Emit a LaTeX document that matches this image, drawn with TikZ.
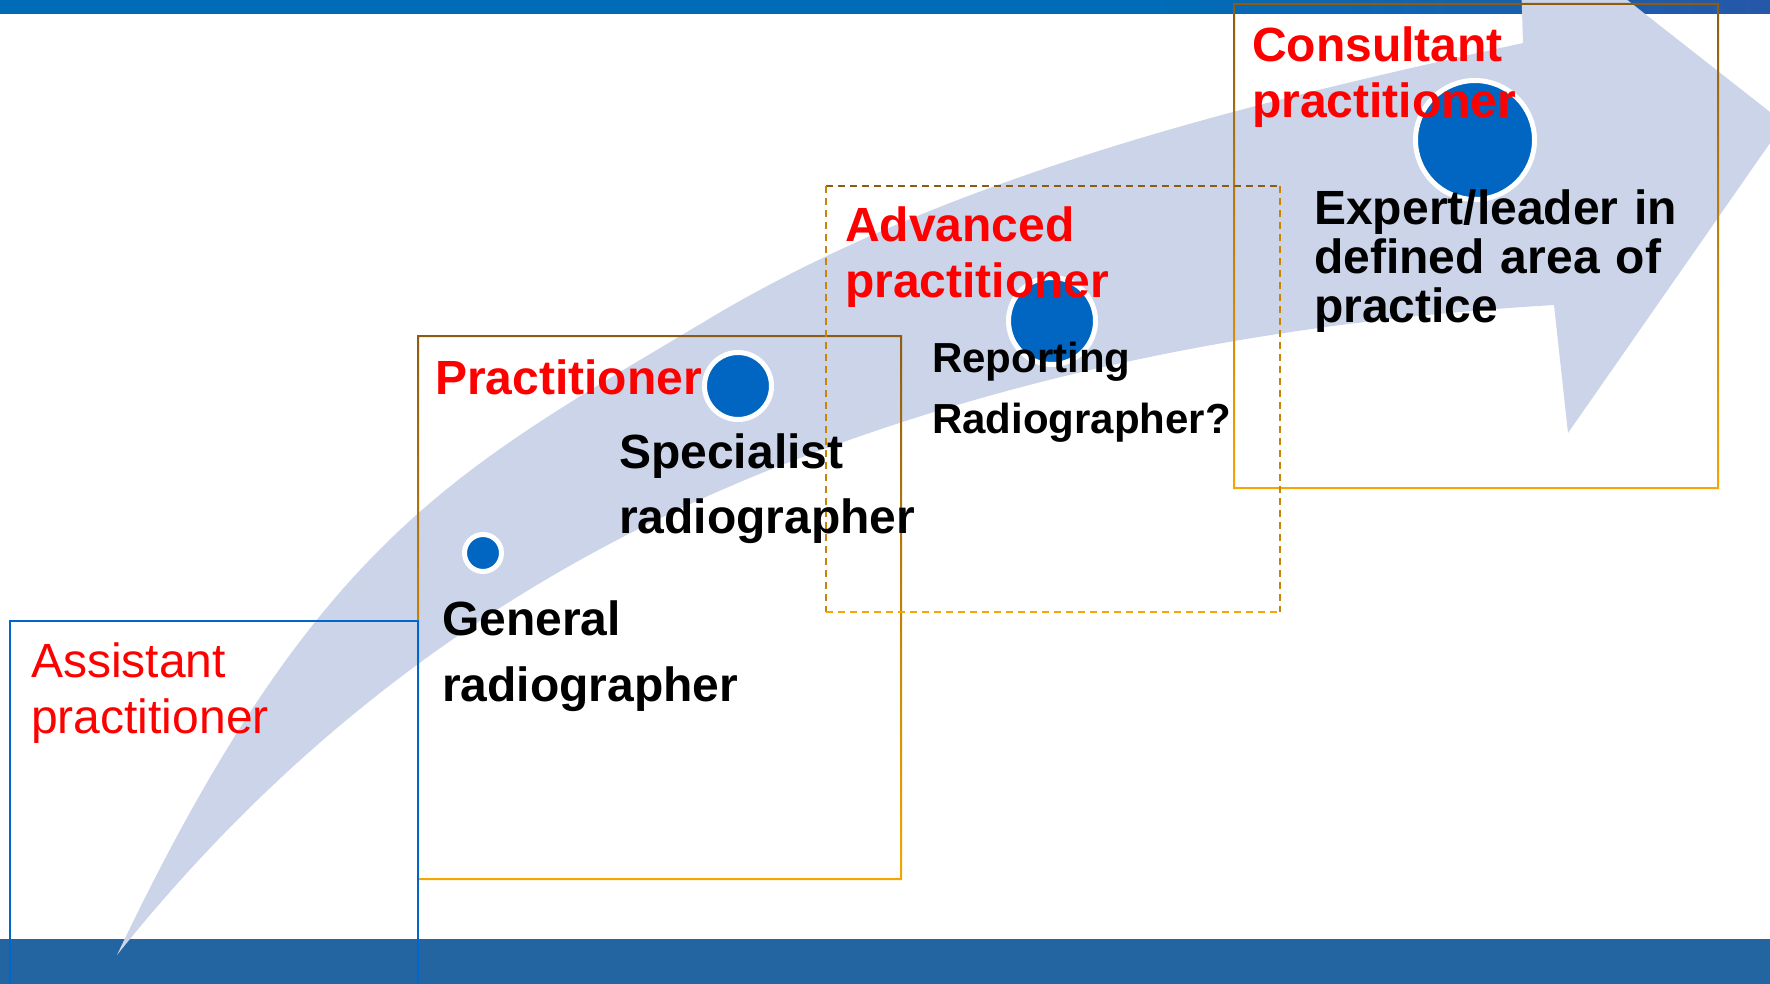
\documentclass[tikz,border=0pt]{standalone}
\usepackage{fontspec}
\setmainfont{Liberation Sans}

\definecolor{topblue}{RGB}{0,108,183}
\definecolor{toplight}{RGB}{72,146,204}
\definecolor{topdark}{RGB}{38,88,168}
\definecolor{barblue}{RGB}{34,101,161}
\definecolor{arrowfill}{RGB}{203,212,232}
\definecolor{dotblue}{RGB}{0,102,193}
\definecolor{assistblue}{RGB}{0,102,204}
\definecolor{framebrown}{RGB}{140,92,18}
\definecolor{frameorange}{RGB}{245,166,0}
\colorlet{framemid}{framebrown!45!frameorange}
\definecolor{titlered}{RGB}{255,0,0}

\begin{document}
\begin{tikzpicture}[x=0.75pt,y=0.75pt,yscale=-1,xscale=1,
  title/.style={anchor=base west, inner sep=0pt, text width=400pt, align=left, text=titlered, font=\bfseries\fontsize{36}{42}\selectfont},
  role/.style={anchor=base west, inner sep=0pt, text width=400pt, align=left, text=black, font=\bfseries\fontsize{36}{49}\selectfont},
  dot/.style={circle, inner sep=0pt, fill=dotblue, draw=white, line width=3.75pt},
  framedash/.style={line width=1.5pt, dash pattern={on 5.5pt off 3.5pt}}]
\useasboundingbox (0,0) rectangle (1770,984);
\clip (0,0) rectangle (1770,984);

%Shape: Rectangle [top bar]
\fill [topblue] (0,0) rectangle (1770,14);
\shade [left color=topblue, middle color=toplight, right color=topdark] (1150,0) rectangle (1770,14);
%Shape: Rectangle [bottom bar]
\fill [barblue] (0,939) rectangle (1770,984);

%Shape: Curved Arrow
\fill [arrowfill] (117,955) .. controls (317,535) and (457,470) .. (707,320)
  .. controls (957,170) and (1273,98) .. (1523,43)
  -- (1519,-85) -- (1784,123) -- (1568,433) -- (1554,305)
  .. controls (1304,320) and (1050,363) .. (800,458)
  .. controls (550,553) and (317,705) .. (117,955) -- cycle ;

%Shape: Rectangle [practitioner frame]
\shade [even odd rule, top color=framebrown, bottom color=frameorange] (417,335) rectangle (902,880) (419,337) rectangle (900,878);
%Shape: Rectangle [consultant frame]
\shade [even odd rule, top color=framebrown, bottom color=frameorange] (1233,3) rectangle (1719,489) (1235,5) rectangle (1717,487);
%Shape: Rectangle [advanced frame, dashed]
\draw [framedash, framebrown] (826,186) -- (1280,186) ;
\draw [framedash, framemid] (826,186) -- (826,612) ;
\draw [framedash, framemid] (1280,186) -- (1280,612) ;
\draw [framedash, frameorange] (826,612) -- (1280,612) ;
%Shape: Rectangle [assistant frame]
\draw [assistblue, line width=1.5pt] (10,621) rectangle (418,1000) ;

%Shape: Circle
\node [dot, minimum size=27.75pt] (generaldot) at (483,553) {};
%Shape: Circle
\node [dot, minimum size=50.25pt] (specialistdot) at (738,386) {};
%Shape: Circle
\node [dot, minimum size=65.25pt] (reportingdot) at (1052,321) {};
%Shape: Circle
\node [dot, minimum size=89.25pt] (consultantdot) at (1475,140) {};

% Text Node
\node [title, font=\fontsize{36}{42}\selectfont] (assistant) at (31,677) {Assistant\\practitioner};
% Text Node
\node [title] (practitioner) at (435,394) {Practitioner};
% Text Node
\node [title] (advanced) at (845,242) {Advanced\\practitioner};
% Text Node
\node [title] (consultant) at (1252,62) {Consultant\\practitioner};
% Text Node
\node [role, font=\bfseries\fontsize{36}{49.5}\selectfont] (general) at (442,635) {General\\radiographer};
% Text Node
\node [role, font=\bfseries\fontsize{36}{48.75}\selectfont] (specialist) at (619,468) {Specialist\\radiographer};
% Text Node
\node [role, font=\bfseries\fontsize{31.5}{45.75}\selectfont] (reporting) at (932,372) {Reporting\\Radiographer?};
% Text Node
\node [role, font=\bfseries\fontsize{36}{36.75}\selectfont] (expert) at (1314,225) {Expert/leader in\\defined area of\\practice};

\end{tikzpicture}
\end{document}
